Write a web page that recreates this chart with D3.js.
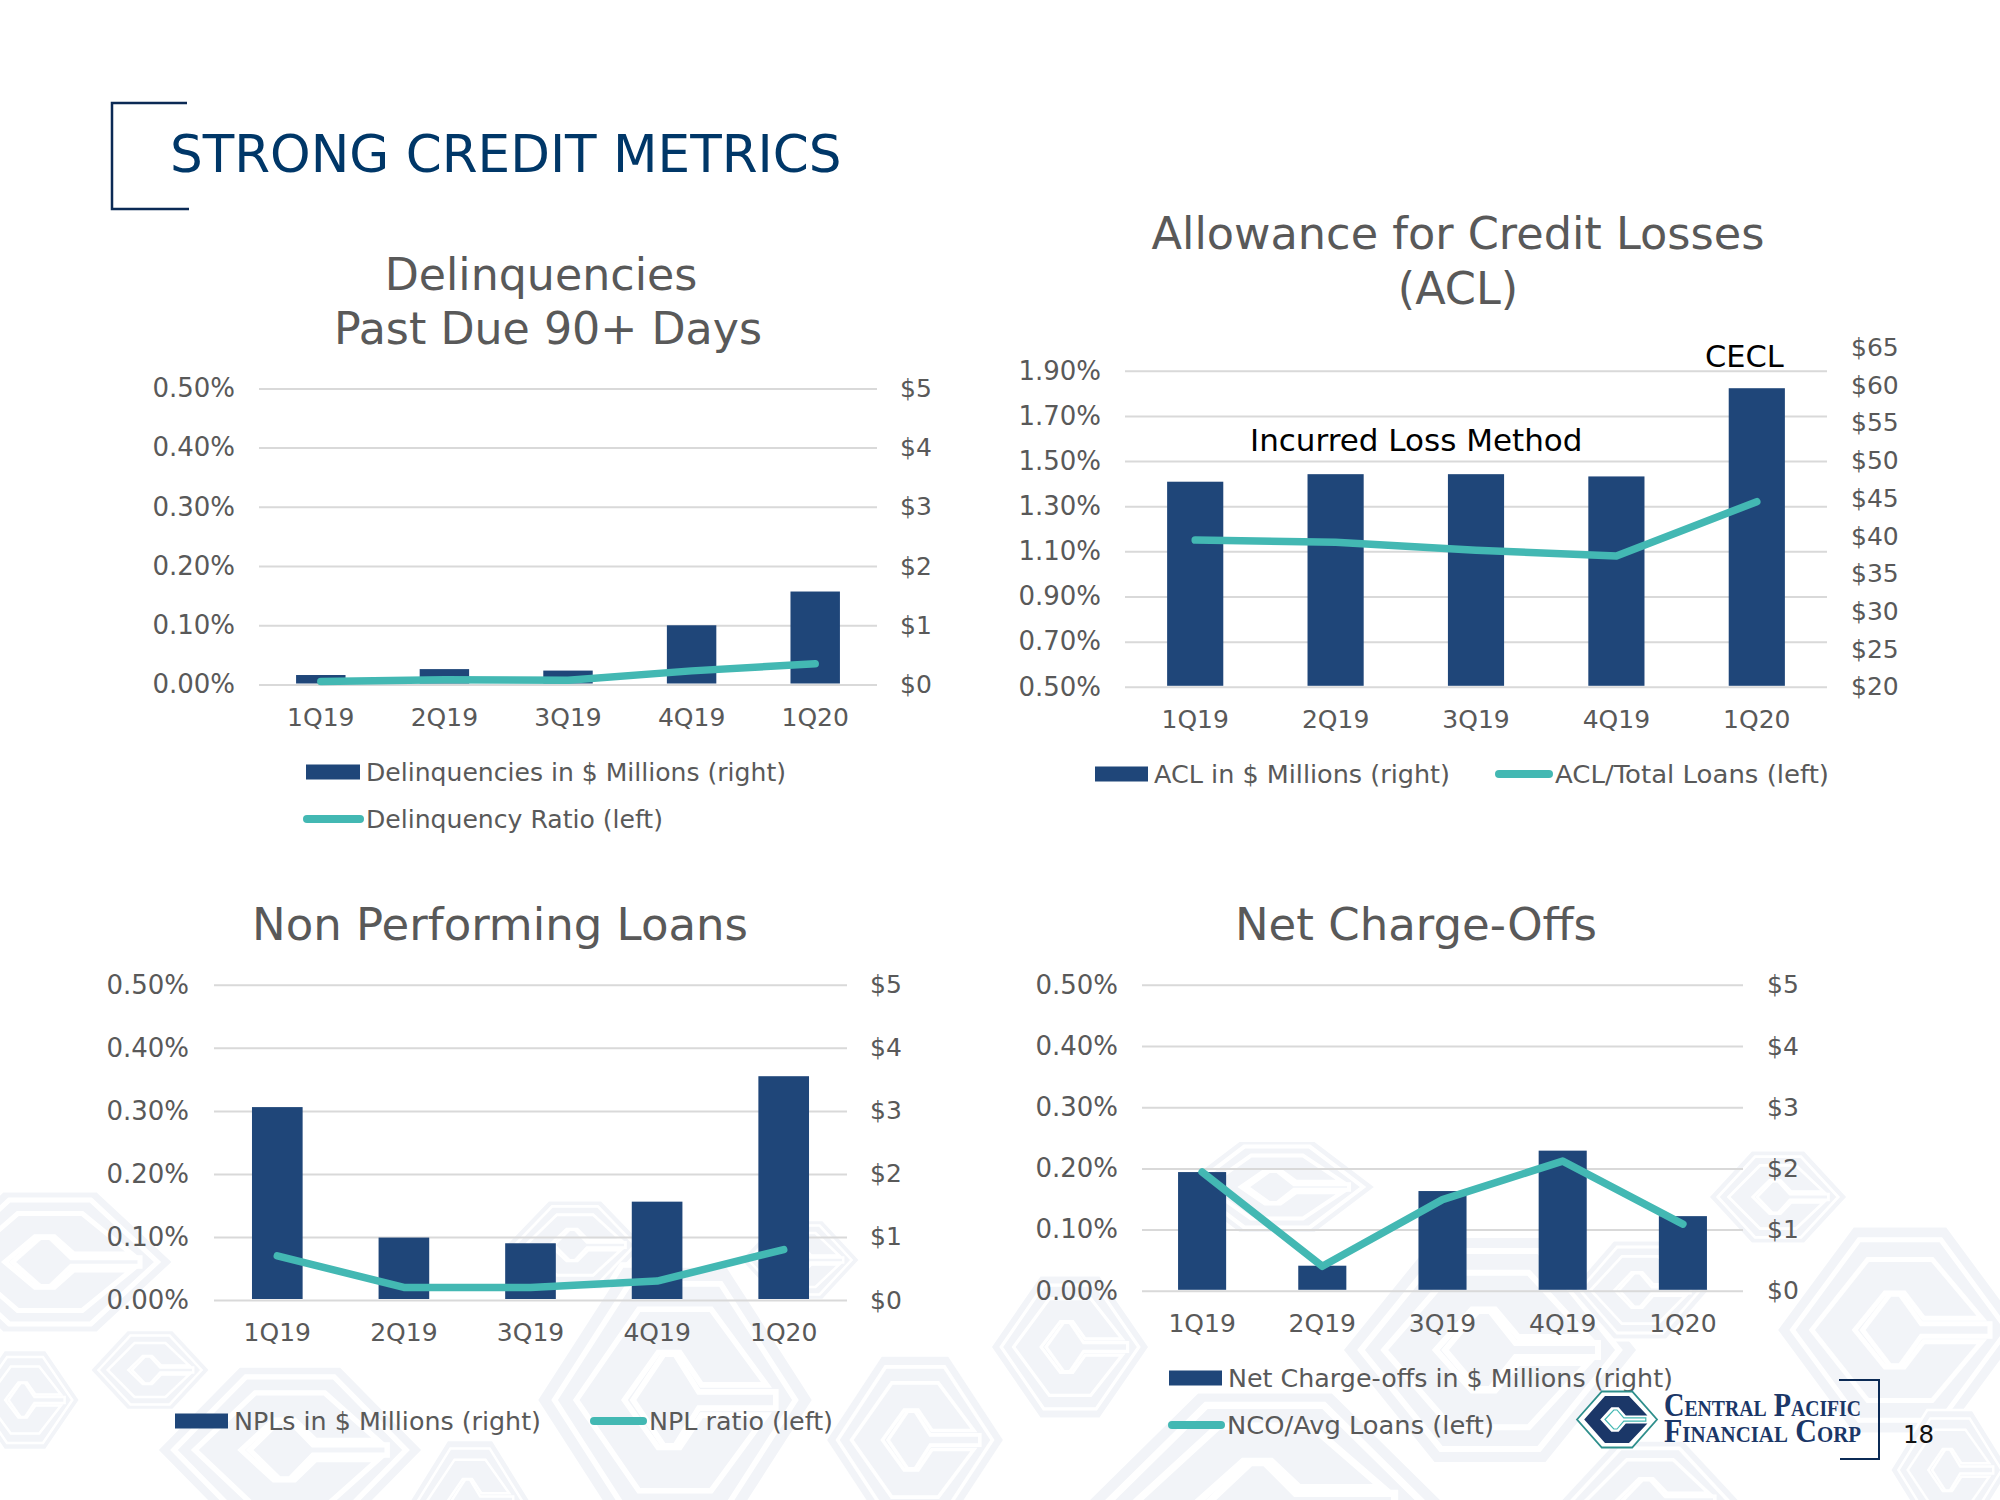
<!DOCTYPE html>
<html><head><meta charset="utf-8">
<script src="https://cdn.jsdelivr.net/npm/d3@7"></script>
<style>html,body{margin:0;padding:0;background:#fff}svg{display:block}text{font-family:"DejaVu Sans",sans-serif}</style>
</head><body><svg id="c" width="2000" height="1500"></svg>
<script>
const categories=["1Q19","2Q19","3Q19","4Q19","1Q20"];
const delinqBars=[0.16,0.26,0.235,1.0,1.57];
const delinqRatio=[0.005,0.008,0.007,0.023,0.035];
const aclBars=[47.2,48.2,48.2,47.9,59.6];
const aclRatio=[1.15,1.14,1.105,1.08,1.32];
const nplBars=[3.06,0.99,0.90,1.56,3.55];
const nplRatio=[0.07,0.02,0.02,0.03,0.08];
const ncoBars=[1.94,0.41,1.63,2.29,1.22];
const ncoRatio=[0.194,0.04,0.149,0.212,0.109];
const pctTicks5=[0,0.1,0.2,0.3,0.4,0.5];
const usdTicks5=[0,1,2,3,4,5];
const aclPctTicks=[0.5,0.7,0.9,1.1,1.3,1.5,1.7,1.9];
const aclUsdTicks=[20,25,30,35,40,45,50,55,60,65];

const NAVY="#1f4679",TEAL="#43b8b3",GREY="#595959",GRID="#d9d9d9",PALE="#f2f4f8";
const svg=d3.select("#c");
const line=d3.line().x(d=>d[0]).y(d=>d[1]);
const hex=[[-1,0],[-.38,-1],[.38,-1],[1,0],[.38,1],[-.38,1]];
const cShape=[[-.82,0],[-.3,-.84],[.3,-.84],[.76,-.14],[.22,-.14],[.04,-.44],[-.14,-.44],[-.42,0],[-.14,.44],[.04,.44],[.22,.14],[.76,.14],[.3,.84],[-.3,.84]];
const inner=[[-.3,0],[-.08,-.34],[0,-.34],[.17,-.06],[.72,-.06],[.72,.06],[.17,.06],[0,.34],[-.08,.34]];
function poly(g,pts,cx,cy,rx,ry){return g.append("path").attr("d",line(pts.map(p=>[cx+p[0]*rx,cy+p[1]*ry]))+"Z");}

// watermark
const wmCx=[50,25,290,575,675,915,1070,1277,1778,1900,1490,1265,1950,470,1650,150,1640,800];
const wmCy=[1262,1400,1450,1245,1400,1440,1347,1187,1197,1330,1350,1500,1470,1500,1500,1370,1290,1260];
const wmRx=[125,55,135,70,140,90,80,100,70,125,150,180,60,60,90,60,70,60];
const wmRy=[72,50,85,45,135,85,72,47,47,105,115,110,60,60,60,40,50,40];
const wm=svg.append("g");
wmCx.forEach((cx,i)=>{
  const rx=wmRx[i],ry=wmRy[i],cy=wmCy[i],w=Math.max(2.5,rx*.04);
  poly(wm,hex,cx,cy,rx,ry).attr("fill",PALE).attr("stroke","#fff").attr("stroke-width",w);
  poly(wm,hex.map(p=>[p[0]*.86,p[1]*.86]),cx,cy,rx,ry).attr("fill","none").attr("stroke","#fff").attr("stroke-width",w);
  poly(wm,cShape.map(p=>[p[0]*.86,p[1]*.8]),cx,cy,rx,ry).attr("fill",PALE).attr("stroke","#fff").attr("stroke-width",w);
  poly(wm,inner,cx,cy,rx,ry).attr("fill",PALE).attr("stroke","#fff").attr("stroke-width",w);
});

function txt(x,y,s,size,fill,anchor){
  return svg.append("text").attr("x",x).attr("y",y).attr("font-size",size).attr("fill",fill||GREY)
    .attr("text-anchor",anchor||"start").text(s);
}
function chart(o){
  const g=svg.append("g");
  const x=d3.scaleBand().domain(categories).range([o.x0,o.x1]);
  const yL=d3.scaleLinear().domain(o.ldom).range([o.y0,o.y1]);
  const yR=d3.scaleLinear().domain(o.rdom).range([o.y0,o.ry1]);
  const cx=c=>x(c)+x.bandwidth()/2;
  const grid=g.append("g").attr("transform",`translate(${o.x0},0)`)
    .call(d3.axisLeft(yL).tickValues(o.lt).tickSize(-(o.x1-o.x0)).tickFormat(""));
  grid.select(".domain").remove();
  grid.selectAll("line").attr("stroke",GRID).attr("stroke-width",2);
  const la=g.append("g").attr("transform",`translate(${o.lx},0)`)
    .call(d3.axisLeft(yL).tickValues(o.lt).tickSize(0).tickPadding(0).tickFormat(d=>d.toFixed(2)+"%"));
  la.select(".domain").remove();
  const ra=g.append("g").attr("transform",`translate(${o.rx},0)`)
    .call(d3.axisRight(yR).tickValues(o.rt).tickSize(0).tickPadding(0).tickFormat(d=>"$"+d));
  ra.select(".domain").remove();
  const xa=g.append("g").attr("transform",`translate(0,${o.y0+32})`)
    .call(d3.axisBottom(x).tickSize(0).tickPadding(0));
  xa.select(".domain").remove();
  xa.selectAll("text").attr("dy","0.36em");
  [ra,xa].forEach(a=>a.selectAll("text").attr("font-size",25).attr("fill",GREY).style("font-family",'"DejaVu Sans",sans-serif'));
  la.selectAll("text").attr("font-size",26).attr("fill",GREY).style("font-family",'"DejaVu Sans",sans-serif');
  const bw=x.bandwidth()*.4;
  g.selectAll("rect.b").data(o.bars).join("rect").attr("class","b")
    .attr("x",(d,i)=>cx(categories[i])-bw/2).attr("width",bw)
    .attr("y",d=>yR(d)).attr("height",d=>o.y0-1-yR(d)).attr("fill",NAVY);
  g.append("path").attr("d",d3.line().x((d,i)=>cx(categories[i])).y(d=>yL(d))(o.line))
    .attr("fill","none").attr("stroke",TEAL).attr("stroke-width",7.5).attr("stroke-linecap","round").attr("stroke-linejoin","round");
  o.title.forEach((t,i)=>txt(o.tx[i],o.ty[i],t,o.tfs||45,GREY,"middle"));
  g.append("rect").attr("x",o.l1[0]).attr("y",o.l1[1]-7.5).attr("width",o.l1[2]).attr("height",15).attr("fill",NAVY);
  txt(o.l1[0]+o.l1[2]+6,o.l1[1],o.leg[0],25).attr("dy","0.36em").attr("textLength",o.lw[0]).attr("lengthAdjust","spacingAndGlyphs");
  g.append("line").attr("x1",o.l2[0]+3).attr("x2",o.l2[0]+o.l2[2]-3).attr("y1",o.l2[1]).attr("y2",o.l2[1])
    .attr("stroke",TEAL).attr("stroke-width",8).attr("stroke-linecap","round");
  txt(o.l2[0]+o.l2[2]+3,o.l2[1],o.leg[1],25).attr("dy","0.36em").attr("textLength",o.lw[1]).attr("lengthAdjust","spacingAndGlyphs");
}
chart({x0:259,x1:877,y0:684.5,y1:388.4,ry1:388.4,ldom:[0,.5],rdom:[0,5],lt:pctTicks5,rt:usdTicks5,lx:235,rx:900,
  bars:delinqBars,line:delinqRatio,title:["Delinquencies","Past Due 90+ Days"],tx:[541,548],ty:[290,344],tfs:44.3,
  l1:[306,772,54],l2:[304,819,59],leg:["Delinquencies in $ Millions (right)","Delinquency Ratio (left)"],lw:[420,297]});
chart({x0:1125,x1:1827,y0:686.8,y1:370.8,ry1:347.5,ldom:[.5,1.9],rdom:[20,65],lt:aclPctTicks,rt:aclUsdTicks,lx:1101,rx:1851,
  bars:aclBars,line:aclRatio,title:["Allowance for Credit Losses","(ACL)"],tx:[1458,1458],ty:[249,304],tfs:44.6,
  l1:[1095,774,53],l2:[1496,774,56],leg:["ACL in $ Millions (right)","ACL/Total Loans (left)"],lw:[296,274]});
chart({x0:214,x1:847,y0:1300,y1:984.8,ry1:984.8,ldom:[0,.5],rdom:[0,5],lt:pctTicks5,rt:usdTicks5,lx:189,rx:870,
  bars:nplBars,line:nplRatio,title:["Non Performing Loans"],tx:[500],ty:[940],
  l1:[175,1421,53],l2:[591,1421,55],leg:["NPLs in $ Millions (right)","NPL ratio (left)"],lw:[307,184]});
chart({x0:1142,x1:1743,y0:1290.8,y1:984.8,ry1:984.8,ldom:[0,.5],rdom:[0,5],lt:pctTicks5,rt:usdTicks5,lx:1118,rx:1767,
  bars:ncoBars,line:ncoRatio,title:["Net Charge-Offs"],tx:[1416],ty:[940],
  l1:[1169,1378,53],l2:[1169,1425,55],leg:["Net Charge-offs in $ Millions (right)","NCO/Avg Loans (left)"],lw:[445,267]});

txt(170,172,"STRONG CREDIT METRICS",51.6,"#003768");
txt(1250,451,"Incurred Loss Method",31,"#000");
txt(1705,367,"CECL",30.5,"#000");

svg.append("path").attr("d","M187,103H112V209H189").attr("fill","none").attr("stroke","#0b2a55").attr("stroke-width",2.5);
svg.append("path").attr("d","M1839,1380H1879V1459H1840").attr("fill","none").attr("stroke","#0b2a55").attr("stroke-width",2);
const lg=svg.append("g"),LX=1617,LY=1419.5,LRX=40,LRY=28;
poly(lg,hex,LX,LY,LRX,LRY).attr("fill","#fff").attr("stroke","#2e8f8c").attr("stroke-width",1.8);
poly(lg,cShape,LX,LY,LRX,LRY).attr("fill","#1b3768");
poly(lg,inner,LX,LY,LRX,LRY).attr("fill","#fff").attr("stroke","#43b8b3").attr("stroke-width",1.2);
[["Central Pacific",1416],["Financial Corp",1442]].forEach(d=>{
  svg.append("text").attr("x",1664).attr("y",d[1]).attr("font-size",33).attr("fill","#1b3768")
    .style("font-family",'"Liberation Serif",serif').style("font-weight","bold").style("font-variant","small-caps")
    .attr("textLength",197).attr("lengthAdjust","spacingAndGlyphs").text(d[0]);
});
txt(1903,1443,"18",24.5,"#111");
</script></body></html>
